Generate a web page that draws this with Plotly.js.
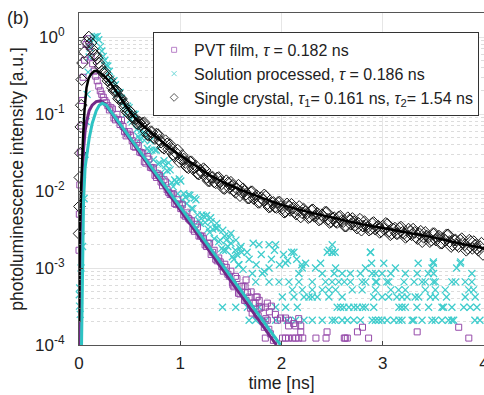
<!DOCTYPE html>
<html><head><meta charset="utf-8">
<script src="https://cdn.plot.ly/plotly-3.0.1.min.js"></script>
<style>html,body{margin:0;padding:0;background:#fff}#chart{width:484px;height:395px}</style>
</head><body><div id="chart"></div>
<script>
// ---------- data ----------
const tGrid = [
0.12,0.15,0.18,0.21,0.24,0.27,0.30,0.33,0.36,0.39,
0.42,0.45,0.48,0.51,0.54,0.57,0.60,0.63,0.66,0.69,
0.72,0.75,0.78,0.81,0.84,0.87,0.90,0.93,0.96,0.99,
1.02,1.05,1.08,1.11,1.14,1.17,1.20,1.23,1.26,1.29,
1.32,1.35,1.38,1.41,1.44,1.47,1.50,1.53,1.56,1.59,
1.62,1.65,1.68,1.71,1.74,1.77,1.80,1.83,1.86,1.89,
1.92,1.95,1.98,2.01,2.04,2.07,2.10,2.13,2.16,2.19,
2.22,2.25,2.28,2.31,2.34,2.37,2.40,2.43,2.46,2.49,
2.52,2.55,2.58,2.61,2.64,2.67,2.70,2.73,2.76,2.79,
2.82,2.85,2.88,2.91,2.94,2.97,3.00,3.03,3.06,3.09,
3.12,3.15,3.18,3.21,3.24,3.27,3.30,3.33,3.36,3.39,
3.42,3.45,3.48,3.51,3.54,3.57,3.60,3.63,3.66,3.69,
3.72,3.75,3.78,3.81,3.84,3.87,3.90,3.93,3.96,3.99];
const tGridB = [
0.135,0.165,0.195,0.225,0.255,0.285,0.315,0.345,0.375,0.405,
0.435,0.465,0.495,0.525,0.555,0.585,0.615,0.645,0.675,0.705,
0.735,0.765,0.795,0.825,0.855,0.885,0.915,0.945,0.975,1.005,
1.035,1.065,1.095,1.125,1.155,1.185,1.215,1.245,1.275,1.305,
1.335,1.365,1.395,1.425,1.455,1.485,1.515,1.545,1.575,1.605,
1.635,1.665,1.695,1.725,1.755,1.785,1.815,1.845,1.875,1.905,
1.935,1.965,1.995,2.025,2.055,2.085,2.115,2.145,2.175,2.205,
2.235,2.265,2.295,2.325,2.355,2.385,2.415,2.445,2.475,2.505,
2.535,2.565,2.595,2.625,2.655,2.685,2.715,2.745,2.775,2.805,
2.835,2.865,2.895,2.925,2.955,2.985,3.015,3.045,3.075,3.105,
3.135,3.165,3.195,3.225,3.255,3.285,3.315,3.345,3.375,3.405,
3.435,3.465,3.495,3.525,3.555,3.585,3.615,3.645,3.675,3.705,
3.735,3.765,3.795,3.825,3.855,3.885,3.915,3.945,3.975];

// Single crystal (black diamonds)
const blackRiseT = [0.000,0.004,0.008,0.013,0.018,0.022,0.027,0.035,0.054,0.074,0.097];
const blackRiseI = [0.0028,0.0063,0.015,0.031,0.068,0.13,0.28,0.46,0.64,0.86,1.0];
const blackI = [
0.84,0.60,0.53,0.41,0.34,0.31,0.28,0.22,0.20,0.158,
0.157,0.124,0.105,0.105,0.088,0.076,0.078,0.076,0.060,0.053,
0.058,0.048,0.054,0.043,0.036,0.041,0.040,0.030,0.031,0.024,
0.029,0.0235,0.020,0.024,0.020,0.0169,0.0186,0.0195,0.0150,0.0135,
0.0151,0.0128,0.0150,0.0124,0.0108,0.0127,0.0130,0.0102,0.0107,0.0087,
0.0107,0.0091,0.0081,0.0098,0.0083,0.0071,0.0082,0.0089,0.0068,0.0063,
0.0071,0.0061,0.0072,0.0060,0.0054,0.0064,0.0067,0.0054,0.0056,0.0046,
0.0058,0.0051,0.0046,0.0057,0.0048,0.0042,0.0049,0.0053,0.0043,0.0040,
0.0045,0.0039,0.0047,0.0040,0.0035,0.0042,0.0044,0.0036,0.0038,0.0031,
0.0040,0.0034,0.0032,0.0039,0.0034,0.0029,0.0035,0.0038,0.0030,0.0028,
0.0033,0.0028,0.0034,0.0028,0.0026,0.0030,0.0032,0.0025,0.0028,0.0022,
0.0029,0.0025,0.0023,0.0028,0.0024,0.0021,0.0024,0.0027,0.0022,0.0020,
0.0023,0.0019,0.0024,0.0020,0.0018,0.0022,0.0022,0.0018,0.0019,0.0015];
const blackI2 = [
0.69,0.58,0.46,0.36,0.35,0.27,0.25,0.20,0.20,0.16,
0.14,0.11,0.11,0.091,0.087,0.074,0.072,0.077,0.054,0.059,
0.050,0.055,0.046,0.037,0.045,0.035,0.0355,0.028,0.034,0.026,
0.026,0.0205,0.024,0.0195,0.021,0.0166,0.0172,0.0187,0.0136,0.0151,
0.0131,0.0148,0.0131,0.0109,0.0136,0.0110,0.0118,0.0096,0.0119,0.0097,
0.0099,0.0081,0.0097,0.0080,0.0087,0.0072,0.0077,0.0085,0.0062,0.0071,
0.0062,0.0071,0.0063,0.0053,0.0068,0.0056,0.0060,0.0050,0.0063,0.0052,
0.0054,0.0045,0.0056,0.0047,0.0051,0.0043,0.0046,0.0053,0.0039,0.0044,
0.0040,0.0046,0.0041,0.0035,0.0045,0.0037,0.0040,0.0033,0.0043,0.0035,
0.0036,0.0031,0.0038,0.0032,0.0035,0.0030,0.0032,0.0037,0.0027,0.0032,
0.0028,0.0033,0.0029,0.0025,0.0032,0.0027,0.0029,0.0024,0.0030,0.0025,
0.0026,0.0022,0.0028,0.0023,0.0026,0.0021,0.0023,0.0027,0.0019,0.0023,
0.0020,0.0023,0.0021,0.0017,0.0023,0.0018,0.0020,0.0017,0.0021];

// PVT film (purple squares)
const purpleRiseT = [0.000,0.003,0.008,0.013,0.020,0.030,0.040,0.055,0.070,0.085,0.100];
const purpleRiseI = [0.0017,0.005,0.012,0.032,0.07,0.15,0.3,0.5,0.8,0.95,0.75];
const purpleI = [
0.55,0.36,0.27,0.20,0.165,0.14,0.113,0.116,0.084,0.085,
0.083,0.059,0.055,0.053,0.038,0.042,0.032,0.031,0.023,0.026,
0.020,0.016,0.0167,0.0131,0.0140,0.0104,0.0090,0.0092,0.0067,0.0068,
0.0066,0.0047,0.0044,0.0041,0.0030,0.0034,0.0026,0.0024,0.0019,0.0021,
0.0016,0.0013,0.00135,0.00104,0.00112,0.00083,0.00091,0.00057,0.00073,0.00046,
0.00058,0.00038,0.00042,0.00026,0.00035,0.00024,0.00031,0.00017,0.00021,0.00014,
0.000115];
const purpleI2 = [
0.45,0.31,0.23,0.18,0.15,0.128,0.121,0.089,0.099,0.073,
0.069,0.052,0.059,0.045,0.037,0.039,0.0315,0.024,0.028,0.0203,
0.020,0.0150,0.0159,0.0117,0.0131,0.0096,0.0091,0.0069,0.0077,0.0059,
0.0049,0.0052,0.0042,0.0032,0.0037,0.0026,0.0026,0.0020,0.0021,0.0015,
0.0017,0.00124,0.0012,0.00091,0.00102,0.00078,0.00064,0.00078,0.00047,0.00058,
0.00038,0.00048,0.00030,0.00035,0.00025,0.00030,0.00020,0.00022,0.00016];
const purpleNoiseT = [1.52,1.64,1.65,1.70,1.75,1.76,1.78,1.84,1.86,1.88,
1.90,1.94,1.96,1.99,2.04,2.07,2.12,2.17,2.07,2.14,
2.19,2.19,2.45,1.84,2.01,2.04,2.07,2.11,2.14,2.17,
2.21,2.34,2.44,2.62,2.63,2.65,2.86,2.75,2.80,3.34,
3.75,3.85];
const purpleNoiseI = [6.0e-4,5.7e-4,7.0e-4,4.9e-4,4.2e-4,4.2e-4,3.8e-4,3.1e-4,3.5e-4,2.7e-4,
3.2e-4,2.5e-4,2.1e-4,2.24e-4,2.24e-4,2.1e-4,1.9e-4,2.2e-4,1.77e-4,1.77e-4,
1.77e-4,1.48e-4,1.48e-4,1.23e-4,1.23e-4,1.23e-4,1.23e-4,1.23e-4,1.23e-4,1.23e-4,
1.23e-4,1.23e-4,1.23e-4,1.23e-4,1.23e-4,1.23e-4,1.23e-4,1.48e-4,1.7e-4,1.48e-4,
1.7e-4,1.23e-4];

// Solution processed (cyan crosses)
const cyanRiseT = [0.003,0.005,0.007,0.012,0.020,0.035,0.050,0.060,0.070,0.080,0.090,0.100,0.110];
const cyanRiseI = [4.5e-4,3.2e-4,5.5e-4,2.5e-4,1.0e-3,1.9e-3,8e-3,0.03,0.08,0.18,0.35,0.55,0.72];
const cyanI = [
0.85,1.0,1.02,0.75,0.56,0.43,0.36,0.26,0.24,0.19,
0.16,0.125,0.126,0.085,0.10,0.063,0.047,0.056,0.055,0.033,
0.034,0.034,0.0225,0.0172,0.0247,0.0183,0.0188,0.0114,0.0131,0.0143,
0.0075,0.0083,0.0089,0.0059,0.0081,0.0049,0.0038,0.0047,0.0048,0.0029,
0.0032,0.0033,0.0022,0.0018,0.0026,0.0019,0.0021,0.0013,0.0015,0.0018,
0.00096];
const cyanI2 = [
0.95,1.0,0.92,0.66,0.50,0.42,0.285,0.27,0.18,0.19,
0.144,0.101,0.121,0.079,0.099,0.051,0.061,0.0455,0.0356,0.045,
0.0255,0.034,0.023,0.016,0.0216,0.0232,0.0128,0.0139,0.0092,0.0135,
0.0092,0.0069,0.0088,0.0059,0.0077,0.0041,0.0049,0.0039,0.0032,0.0040,
0.0024,0.0033,0.0023,0.0017,0.0023,0.0025,0.0014,0.0017,0.0011,0.0016];
const cyanExtraT = [1.30,1.36,1.42,1.45,1.50,1.55,1.58,1.60,1.66,1.68,1.72,1.75,1.80,1.83,1.90,1.93,1.98,2.02,2.06,2.10,2.15,2.20,2.47,2.50,2.88,3.50,3.77];
const cyanExtraI = [0.0045,0.0038,0.0031,0.0017,0.0028,0.0023,0.0011,0.0019,0.0016,0.0013,0.0021,0.0011,0.0015,0.0009,0.0013,0.0017,0.0011,0.0015,0.00125,0.0016,0.0013,0.0011,0.0017,0.0016,0.0016,0.0012,0.0012];
// background (noise floor) levels and the times at which crosses sit on each level
const cyanLevels = [2.1e-4,3.1e-4,4.2e-4,5.2e-4,6.6e-4,8.5e-4,1.0e-3,1.15e-3,1.6e-3,2.0e-3];
const cyanLevelTimes = [
[1.68,1.745,1.844,1.942,2.057,2.139,2.222,2.304,2.402,2.501,2.53,2.599,2.65,2.714,2.78,2.895,2.928,2.96,2.993,3.043,3.11,3.16,3.19,3.29,3.305,3.388,3.486,3.519,3.585,3.65,3.683,3.70,3.91,3.96],
[1.417,1.548,1.663,1.778,1.942,2.041,2.156,2.55,2.583,2.616,2.665,2.714,2.75,2.80,2.829,2.911,3.16,3.19,3.223,3.338,3.453,3.585,3.60,3.683,3.80,3.864,3.93],
[2.008,2.123,2.222,2.271,2.304,2.353,2.468,2.599,2.911,2.993,3.059,3.14,3.19,3.24,3.32,3.355,3.47,3.52,3.63,3.814,3.913],
[2.107,2.205,2.304,2.402,2.468,2.534,2.698,2.796,2.928,3.08,3.157,3.223,3.42,3.519,3.617,3.85,3.896],
[1.745,1.877,1.975,2.074,2.172,2.304,2.435,2.50,2.566,2.62,2.681,2.796,2.83,2.928,2.94,3.04,3.059,3.21,3.31,3.388,3.42,3.50,3.519,3.683,3.72,3.814,3.88],
[1.712,1.811,2.172,2.402,2.52,2.599,2.68,2.78,2.895,2.93,2.993,3.08,3.223,3.34,3.45,3.502,3.88],
[1.877,2.205,2.336,2.534,2.829,3.125,3.486,3.73],
[2.041,2.238,2.386,2.89,3.01,3.35,3.50,3.765],
[2.123,2.452,2.501,2.53,2.878],
[1.778,1.877,1.942,2.501]];

// fitted curves
const blackFitT = [0.000,0.008,0.020,0.030,0.040,0.054,0.074,0.095,0.12,0.15,0.17,0.20,0.25,0.30,0.35,0.40,0.45,0.50,0.55,0.60,0.70,0.80,0.90,1.00,1.10,1.20,1.30,1.40,1.50,1.60,1.80,2.00,2.25,2.50,2.75,3.00,3.25,3.50,3.75,4.00];
const blackFitI = [2.0e-4,3.0e-3,0.010,0.025,0.05,0.11,0.22,0.29,0.33,0.36,0.365,0.35,0.31,0.265,0.215,0.17,0.135,0.108,0.09,0.077,0.059,0.046,0.036,0.029,0.0235,0.019,0.0158,0.0135,0.0117,0.0103,0.0082,0.0066,0.0054,0.0045,0.0038,0.0033,0.0029,0.0025,0.0021,0.0018];
const purpleFitT = [0.000,0.010,0.020,0.030,0.045,0.060,0.080,0.100,0.130,0.170,0.210,0.250,1.100,1.950];
const purpleFitI = [1.0e-4,5.0e-4,3.0e-3,0.012,0.035,0.06,0.085,0.11,0.13,0.145,0.148,0.138,0.0037,1.0e-4];
const cyanFitT = [0.025,0.035,0.045,0.060,0.080,0.100,0.130,0.170,0.200,0.230,0.270,1.100,1.990];
const cyanFitI = [1.0e-4,8.0e-4,7.6e-3,0.02,0.033,0.048,0.075,0.11,0.13,0.138,0.13,0.0041,1.0e-4];

const legendNames = ['PVT film, <i>τ</i> = 0.182 ns','Solution processed, <i>τ</i> = 0.186 ns','Single crystal, <i>τ</i><sub>1</sub>= 0.161 ns, <i>τ</i><sub>2</sub>= 1.54 ns'];
const yTickVals = [1e-4,1e-3,1e-2,1e-1,1];
const yTickText = ['10<sup>-4</sup>','10<sup>-3</sup>','10<sup>-2</sup>','10<sup>-1</sup>','10<sup>0</sup>'];
const xTickVals = [0,1,2,3,4];

// ---------- build traces ----------
const FONT = '"Liberation Sans", Arial, Helvetica, sans-serif';
const cPurpleM = 'rgb(150,75,170)', cPurpleL = 'rgb(115,40,135)';
const cCyanM = 'rgb(65,205,205)', cCyanL = 'rgb(45,195,195)';
const cBlack = 'rgb(25,25,25)';

let cyanX = cyanRiseT.concat(tGrid.slice(0, cyanI.length), tGridB.slice(0, cyanI2.length), cyanExtraT);
let cyanY = cyanRiseI.concat(cyanI, cyanI2, cyanExtraI);
cyanLevels.forEach((lv, k) => { cyanLevelTimes[k].forEach(t => { cyanX.push(t); cyanY.push(lv); }); });

const purpleX = purpleRiseT.concat(tGrid.slice(0, purpleI.length), tGridB.slice(0, purpleI2.length), purpleNoiseT);
const purpleY = purpleRiseI.concat(purpleI, purpleI2, purpleNoiseI);
const blackX = blackRiseT.concat(tGrid, tGridB.slice(0, blackI2.length));
const blackY = blackRiseI.concat(blackI, blackI2);

const traces = [
 {x: cyanX, y: cyanY, mode:'markers', type:'scatter', showlegend:false, cliponaxis:false,
  marker:{symbol:'x-thin', size:7, color:cCyanM, line:{width:1.3, color:cCyanM}}},
 {x: purpleX, y: purpleY, mode:'markers', type:'scatter', showlegend:false, cliponaxis:false,
  marker:{symbol:'square-open', size:6, color:cPurpleM, line:{width:1}}},
 {x: blackX, y: blackY, mode:'markers', type:'scatter', showlegend:false, cliponaxis:false,
  marker:{symbol:'diamond-open', size:9, color:cBlack, line:{width:1}}},
 {x: purpleFitT, y: purpleFitI, mode:'lines', type:'scatter', showlegend:false, line:{color:cPurpleL, width:3}},
 {x: cyanFitT, y: cyanFitI, mode:'lines', type:'scatter', showlegend:false, line:{color:cCyanL, width:3}},
 {x: blackFitT, y: blackFitI, mode:'lines', type:'scatter', showlegend:false, line:{color:'#000', width:2.5}},
 {x:[null], y:[null], mode:'markers', type:'scatter', name:legendNames[0], marker:{symbol:'square-open', size:5, color:'rgb(185,130,200)', line:{width:1}}},
 {x:[null], y:[null], mode:'markers', type:'scatter', name:legendNames[1], marker:{symbol:'x-thin', size:5, color:'rgb(110,215,215)', line:{width:1, color:'rgb(110,215,215)'}}},
 {x:[null], y:[null], mode:'markers', type:'scatter', name:legendNames[2], marker:{symbol:'diamond-open', size:6, color:'rgb(90,90,90)', line:{width:1}}}
];

const minorVals = [];
for (let e = -4; e <= 0; e++) for (let d = 2; d <= 9; d++) minorVals.push(d * Math.pow(10, e));

const layout = {
 width:484, height:395,
 margin:{l:79, r:0, t:13, b:50, pad:0},
 paper_bgcolor:'#fff', plot_bgcolor:'#fff',
 font:{family:FONT, color:'#222', size:16},
 showlegend:true,
 legend:{x:0.183, y:0.943, xanchor:'left', yanchor:'top', bgcolor:'#fff', bordercolor:'#333', borderwidth:1,
   font:{family:FONT, size:16, color:'#222'}, itemwidth:30, tracegroupgap:0},
 xaxis:{range:[0,4], tickvals:xTickVals, ticks:'inside', ticklen:4, tickcolor:'#444',
   showline:true, linecolor:'#555', linewidth:1, mirror:true, showgrid:true, gridcolor:'#e6e6e6', gridwidth:1,
   zeroline:false, tickfont:{size:17, color:'#222'}, ticklabelstandoff:3, ticklabeloverflow:'allow',
   title:{text:'time [ns]', font:{size:17.5, color:'#222'}, standoff:4}},
 yaxis:{type:'log', range:[-4, 0.312], tickvals:yTickVals, ticktext:yTickText, ticks:'inside', ticklen:4, tickcolor:'#444',
   showline:true, linecolor:'#555', linewidth:1, mirror:true, showgrid:true, gridcolor:'#e3e3e3', gridwidth:1,
   zeroline:false, tickfont:{size:17, color:'#222'}, ticklabelstandoff:10,
   minor:{tickvals:minorVals, ticks:'inside', ticklen:2, tickcolor:'#666', showgrid:true, gridcolor:'#dcdcdc', griddash:'dot', gridwidth:1},
   title:{text:'photoluminescence intensity [a.u.]', font:{size:17.5, color:'#222'}, standoff:6}},
 annotations:[{text:'(b)', xref:'paper', yref:'paper', x:-0.183, y:0.985, xanchor:'left', yanchor:'middle', showarrow:false,
   font:{family:FONT, size:18, color:'#222'}}]
};

Plotly.newPlot('chart', traces, layout, {staticPlot:true, displayModeBar:false});
</script></body></html>
